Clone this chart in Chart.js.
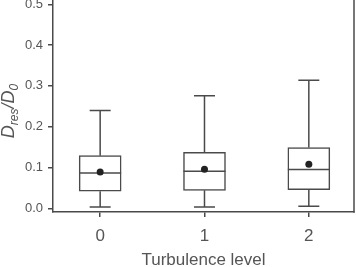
<!DOCTYPE html>
<html><head><meta charset="utf-8">
<script src="https://cdn.jsdelivr.net/npm/chart.js@4"></script>
<style>html,body{margin:0;padding:0;background:#fff;}#wrap{width:356px;height:267px;}</style>
</head><body><div id="wrap"><canvas id="c" width="356" height="267"></canvas></div>
<script>
const categories = ['0', '1', '2'];
const whiskerLow = [0.003, 0.003, 0.005];
const q1 = [0.042, 0.044, 0.046];
const median = [0.0865, 0.091, 0.095];
const q3 = [0.129, 0.137, 0.149];
const whiskerHigh = [0.240, 0.276, 0.314];
const means = [0.089, 0.096, 0.108];
const yTicks = [0.0, 0.1, 0.2, 0.3, 0.4, 0.5];

const axisColor = '#4a4a4a';
const textColor = '#555555';
const fam = '"Liberation Sans", Arial, sans-serif';

const boxPlugin = {
  id: 'boxParts',
  beforeDatasetsDraw(chart) {
    const ctx = chart.ctx, xs = chart.scales.x, ys = chart.scales.y;
    ctx.save();
    ctx.strokeStyle = axisColor; ctx.lineWidth = 1.5;
    categories.forEach((c, i) => {
      const x = xs.getPixelForValue(i);
      const half = 10.5;
      ctx.beginPath();
      ctx.moveTo(x, ys.getPixelForValue(q3[i])); ctx.lineTo(x, ys.getPixelForValue(whiskerHigh[i]));
      ctx.moveTo(x - half, ys.getPixelForValue(whiskerHigh[i])); ctx.lineTo(x + half, ys.getPixelForValue(whiskerHigh[i]));
      ctx.moveTo(x, ys.getPixelForValue(q1[i])); ctx.lineTo(x, ys.getPixelForValue(whiskerLow[i]));
      ctx.moveTo(x - half, ys.getPixelForValue(whiskerLow[i])); ctx.lineTo(x + half, ys.getPixelForValue(whiskerLow[i]));
      ctx.stroke();
    });
    ctx.restore();
  },
  afterDatasetsDraw(chart) {
    const ctx = chart.ctx, xs = chart.scales.x, ys = chart.scales.y;
    ctx.save();
    ctx.strokeStyle = axisColor; ctx.lineWidth = 1.5;
    categories.forEach((c, i) => {
      const x = xs.getPixelForValue(i);
      const y = ys.getPixelForValue(median[i]);
      ctx.beginPath(); ctx.moveTo(x - 21, y); ctx.lineTo(x + 21, y); ctx.stroke();
    });
    const a = chart.chartArea;
    ctx.beginPath(); ctx.moveTo(a.right, a.top); ctx.lineTo(a.right, a.bottom + 0.75); ctx.stroke();
    ctx.fillStyle = '#222';
    categories.forEach((c, i) => {
      ctx.beginPath();
      ctx.arc(xs.getPixelForValue(i), ys.getPixelForValue(means[i]), 3.5, 0, Math.PI * 2);
      ctx.fill();
    });
    ctx.restore();
  },
  afterDraw(chart) {
    const ctx = chart.ctx;
    ctx.save();
    ctx.translate(13.5, 111);
    ctx.rotate(-Math.PI / 2);
    ctx.fillStyle = textColor;
    ctx.textBaseline = 'alphabetic';
    const big = 'italic 18px ' + fam;
    const small = 'italic 12px ' + fam;
    const parts = [['D', big, 0], ['res', small, 4.5], ['/D', big, 0], ['0', small, 4.5]];
    let w = 0;
    parts.forEach(p => { ctx.font = p[1]; w += ctx.measureText(p[0]).width; });
    let x = -w / 2;
    parts.forEach(p => { ctx.font = p[1]; ctx.fillText(p[0], x, p[2]); x += ctx.measureText(p[0]).width; });
    ctx.restore();
  }
};

new Chart(document.getElementById('c'), {
  type: 'bar',
  data: {
    datasets: [{
      data: categories.map((c, i) => ({ x: i, y: [q1[i], q3[i]] })),
      backgroundColor: '#ffffff',
      borderColor: axisColor,
      borderWidth: 1.5,
      borderSkipped: false,
      barThickness: 42
    }]
  },
  options: {
    responsive: false,
    animation: false,
    events: [],
    plugins: { legend: { display: false }, tooltip: { enabled: false } },
    layout: { padding: { top: 0, right: 2, bottom: 0, left: 0 } },
    scales: {
      x: {
        type: 'linear',
        offset: false,
        min: -0.452, max: 2.433,
        afterBuildTicks: s => { s.ticks = categories.map((c, i) => ({ value: i })); },
        afterFit: s => { s.height = 55; s.paddingLeft = 0; s.paddingRight = 0; },
        ticks: { callback: (v) => categories[v], color: textColor, font: { family: fam, size: 17 }, padding: 9, maxRotation: 0 },
        grid: { offset: false, drawOnChartArea: false, drawTicks: true, tickLength: 5, color: axisColor, lineWidth: 1.5 },
        border: { color: axisColor, width: 1.5 },
        title: { display: true, text: 'Turbulence level', color: textColor, font: { family: fam, size: 17 }, padding: { top: 0, bottom: -4 } }
      },
      y: {
        min: -0.009, max: 0.5105,
        afterBuildTicks: s => { s.ticks = yTicks.map(v => ({ value: v })); },
        afterFit: s => { s.width = 53; s.paddingTop = 0; s.paddingBottom = 0; },
        ticks: { callback: v => v.toFixed(1), color: textColor, font: { family: fam, size: 13 }, padding: 5 },
        grid: { drawOnChartArea: false, drawTicks: true, tickLength: 5, color: axisColor, lineWidth: 1.5 },
        border: { color: axisColor, width: 1.5 }
      }
    }
  },
  plugins: [boxPlugin]
});
</script>
</body></html>
